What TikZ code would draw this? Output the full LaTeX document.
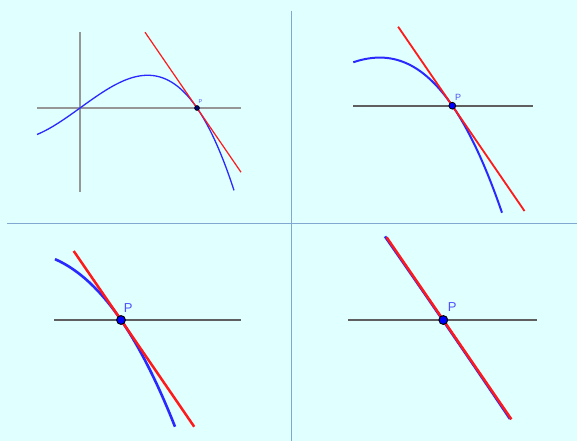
\documentclass[tikz,border=0pt]{standalone}
\usepackage{fontspec}
\setmainfont{Liberation Sans}
\definecolor{bg}{RGB}{224,255,255}
\definecolor{divider}{RGB}{128,168,208}
\definecolor{curveblue}{RGB}{40,40,255}
\definecolor{tanred}{RGB}{255,25,25}
\definecolor{labelblue}{RGB}{80,80,255}
\definecolor{axisgrayA}{RGB}{150,150,150}
\definecolor{axisgrayB}{RGB}{95,95,95}
\definecolor{navy}{RGB}{0,0,110}
\begin{document}
\begin{tikzpicture}[x=1pt,y=-1pt,
  declare function={cy(\u,\s)=0.5383*\u*(1.17+\u/(100*\s))*(2.315+\u/(100*\s));},
  divline/.style={draw=divider,line width=1.2pt},
  axisA/.style={draw=axisgrayA,line width=1.5pt},
  axisB/.style={draw=axisgrayB,line width=1.6pt},
  axisC/.style={draw=axisgrayB,line width=2pt},
  curveline/.style={draw=curveblue,smooth},
  tanline/.style={draw=tanred},
  plabel/.style={text=labelblue,inner sep=0pt,font=\fontsize{#1}{#1}\selectfont},
  pdot/.style={circle,inner sep=0pt,minimum size=#1,draw=black,fill=blue,line width=0.8pt}
]
\useasboundingbox[fill=bg] (0,0) rectangle (577,441);

% dividers
\coordinate (Vtop) at (291.3,11);
\coordinate (Vbot) at (291.3,441);
\coordinate (Hl) at (7,223.3);
\coordinate (Hr) at (577,223.3);
\draw[divline] (Vtop) -- (Vbot);
\draw[divline] (Hl) -- (Hr);

% ---------- panel 1 ----------
\coordinate (P1) at (197,108);
\coordinate (X1a) at (37,108);
\coordinate (X1b) at (241,108);
\coordinate (Y1a) at (80,32);
\coordinate (Y1b) at (80,192);
\coordinate (T1a) at (145,32.2);
\coordinate (T1b) at (241,172.2);
\draw[axisA] (X1a) -- (X1b);
\draw[axisA,line width=1.3pt] (Y1a) -- (Y1b);
\draw[curveline,line width=1.3pt] plot[domain=-160:37,samples=120] ({197+\x},{108+cy(\x,1)});
\draw[tanline,line width=1.2pt] (T1a) -- (T1b);
\node[circle,inner sep=0pt,minimum size=5pt,draw=black,fill=navy,line width=0.5pt] (D1) at (P1) {};
\node[plabel=5.5] (L1) at (200.5,101.5) {P};

% ---------- panel 2 ----------
\coordinate (P2) at (452.3,105.7);
\coordinate (X2a) at (353.3,105.7);
\coordinate (X2b) at (532.7,105.7);
\coordinate (T2a) at (398.1,26.7);
\coordinate (T2b) at (524.5,211);
\draw[axisB] (X2a) -- (X2b);
\draw[curveline,line width=2pt] plot[domain=-99:49.7,samples=120] ({452.3+\x},{105.7+cy(\x,1.47)});
\draw[tanline,line width=1.8pt] (T2a) -- (T2b);
\node[pdot=6.8pt] (D2) at (P2) {};
\node[plabel=9] (L2) at (458,97) {P};

% ---------- panel 3 ----------
\coordinate (P3) at (121,320);
\coordinate (X3a) at (54.3,320);
\coordinate (X3b) at (240.7,320);
\coordinate (T3a) at (73.7,251);
\coordinate (T3b) at (194.2,426.7);
\draw[axisC] (X3a) -- (X3b);
\draw[curveline,line width=2.6pt] plot[domain=-66:54,samples=120] ({121+\x},{320+cy(\x,2.1)});
\draw[tanline,line width=2.5pt] (T3a) -- (T3b);
\node[pdot=8.8pt,line width=1pt] (D3) at (P3) {};
\node[plabel=13] (L3) at (128.3,308.3) {P};

% ---------- panel 4 ----------
\coordinate (P4) at (443.3,320);
\coordinate (X4a) at (348.3,320);
\coordinate (X4b) at (537.3,320);
\coordinate (T4a) at (386.6,237.3);
\coordinate (T4b) at (511.4,419.3);
\draw[axisC] (X4a) -- (X4b);
\draw[curveline,line width=2.6pt] plot[domain=-58:67,samples=120] ({443.0+\x},{320.4+cy(\x,100)});
\draw[tanline,line width=2.5pt] (T4a) -- (T4b);
\node[pdot=8.8pt,line width=1pt] (D4) at (P4) {};
\node[plabel=13] (L4) at (452.3,307.3) {P};
\end{tikzpicture}
\end{document}
